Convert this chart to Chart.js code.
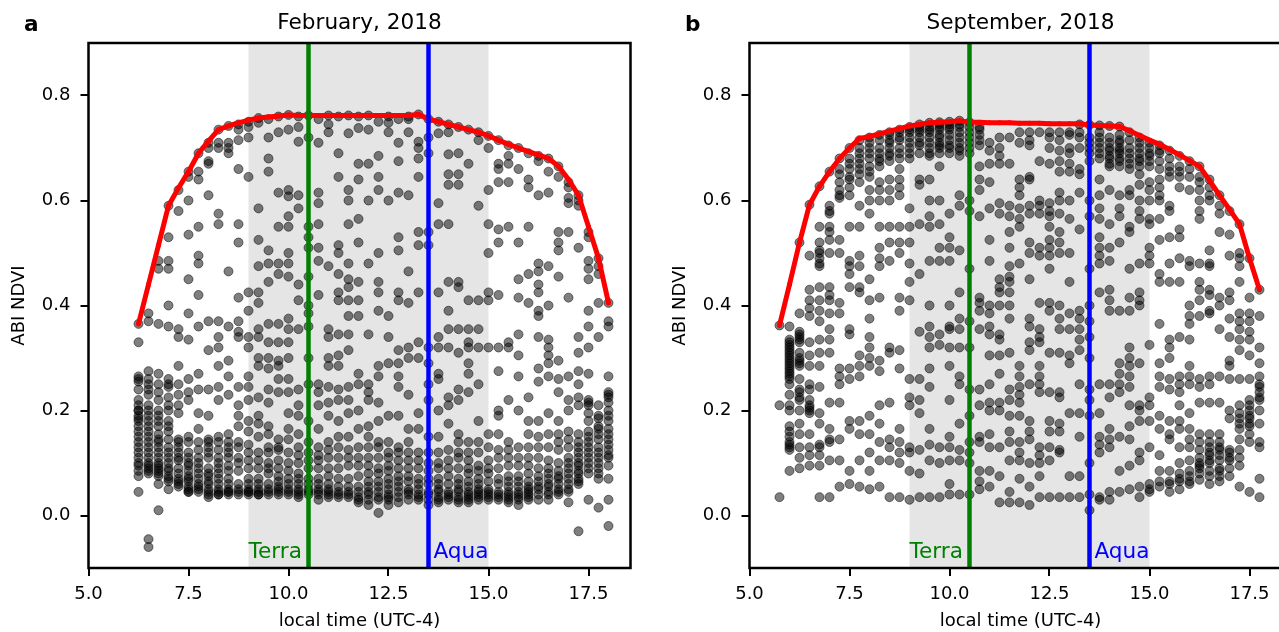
<!DOCTYPE html>
<html>
<head>
<meta charset="utf-8">
<script src="https://cdn.jsdelivr.net/npm/chart.js@4.4.1/dist/chart.umd.min.js"></script>
<style>
html, body { margin: 0; padding: 0; background: #fff; overflow: hidden; }
#fig { position: relative; width: 1279px; height: 632px; overflow: hidden; background: #fff; }
.panel { position: absolute; top: 0; height: 632px; overflow: hidden; }
</style>
</head>
<body>
<div id="fig">
    <div class="panel" style="left:0px;width:640px"><canvas id="panelA" width="640" height="632"></canvas></div>
    <div class="panel" style="left:661px;width:618px"><canvas id="panelB" width="640" height="632"></canvas></div>
</div>
<script>
// axis ticks
const xTickValues = [5.0, 7.5, 10.0, 12.5, 15.0, 17.5];
const yTickValues = [0.0, 0.2, 0.4, 0.6, 0.8];

// MODIS overpass window and times
const shadeRange = [9, 15];
const terraTime = 10.5;
const aquaTime = 13.5;

// February 2018 - observation times (local hour) and NDVI values at each time
const timesA = [6.25, 6.5, 6.75, 7.0, 7.25, 7.5, 7.75, 8.0, 8.25, 8.5, 8.75, 9.0, 9.25, 9.5, 9.75, 10.0,
    10.25, 10.5, 10.75, 11.0, 11.25, 11.5, 11.75, 12.0, 12.25, 12.5, 12.75, 13.0, 13.25, 13.5, 13.75, 14.0,
    14.25, 14.5, 14.75, 15.0, 15.25, 15.5, 15.75, 16.0, 16.25, 16.5, 16.75, 17.0, 17.25, 17.5, 17.75, 18.0];

const ndviA = [
    [0.365, 0.33, 0.265, 0.255, 0.24, 0.21, 0.2, 0.19, 0.18, 0.17, 0.16, 0.15, 0.13, 0.11, 0.1, 0.075, 0.045, 0.26, 0.22, 0.2, 0.185, 0.14, 0.12, 0.095, 0.085],
    [0.385, 0.37, 0.275, 0.26, 0.24, 0.23, 0.2, 0.19, 0.17, 0.15, 0.14, 0.13, 0.12, 0.1, 0.09, 0.08, -0.045, -0.06, 0.25, 0.21, 0.18, 0.16, 0.11, 0.095, 0.085],
    [0.485, 0.47, 0.365, 0.235, 0.2, 0.19, 0.17, 0.155, 0.14, 0.12, 0.1, 0.09, 0.08, 0.06, 0.01, 0.27, 0.25, 0.22, 0.18, 0.145, 0.13, 0.11, 0.095, 0.085, 0.075],
    [0.59, 0.53, 0.485, 0.47, 0.4, 0.36, 0.26, 0.245, 0.225, 0.2, 0.18, 0.16, 0.13, 0.11, 0.09, 0.075, 0.05, 0.25, 0.21, 0.17, 0.145, 0.12, 0.1, 0.085, 0.07, 0.065],
    [0.62, 0.58, 0.355, 0.34, 0.285, 0.23, 0.21, 0.195, 0.145, 0.12, 0.105, 0.09, 0.07, 0.055, 0.25, 0.14, 0.13, 0.11, 0.08, 0.065, 0.06],
    [0.655, 0.645, 0.6, 0.535, 0.45, 0.385, 0.335, 0.26, 0.235, 0.22, 0.14, 0.12, 0.1, 0.085, 0.07, 0.055, 0.045, 0.15, 0.11, 0.095, 0.075, 0.065, 0.05, 0.045],
    [0.69, 0.655, 0.64, 0.55, 0.495, 0.48, 0.42, 0.36, 0.27, 0.24, 0.195, 0.165, 0.125, 0.1, 0.08, 0.06, 0.05, 0.14, 0.11, 0.09, 0.07, 0.055, 0.045],
    [0.71, 0.7, 0.675, 0.67, 0.61, 0.37, 0.315, 0.24, 0.19, 0.145, 0.13, 0.12, 0.09, 0.075, 0.06, 0.045, 0.035, 0.14, 0.11, 0.08, 0.065, 0.05, 0.04],
    [0.735, 0.71, 0.7, 0.575, 0.555, 0.37, 0.34, 0.32, 0.285, 0.245, 0.22, 0.15, 0.125, 0.1, 0.08, 0.06, 0.045, 0.04, 0.14, 0.11, 0.09, 0.07, 0.05, 0.04],
    [0.742, 0.71, 0.7, 0.69, 0.465, 0.36, 0.295, 0.265, 0.23, 0.155, 0.13, 0.11, 0.095, 0.06, 0.045, 0.04, 0.14, 0.12, 0.085, 0.07, 0.05, 0.045],
    [0.745, 0.735, 0.715, 0.66, 0.555, 0.52, 0.415, 0.37, 0.35, 0.34, 0.245, 0.21, 0.19, 0.17, 0.13, 0.1, 0.05, 0.04, 0.14, 0.11, 0.085, 0.06, 0.045],
    [0.75, 0.74, 0.72, 0.645, 0.425, 0.39, 0.34, 0.32, 0.265, 0.245, 0.22, 0.18, 0.16, 0.135, 0.105, 0.07, 0.045, 0.04, 0.12, 0.09, 0.06, 0.05, 0.045],
    [0.757, 0.748, 0.585, 0.525, 0.475, 0.425, 0.405, 0.355, 0.34, 0.3, 0.285, 0.225, 0.19, 0.175, 0.15, 0.12, 0.105, 0.07, 0.045, 0.04, 0.09, 0.06, 0.05, 0.04],
    [0.755, 0.72, 0.68, 0.655, 0.505, 0.48, 0.445, 0.365, 0.33, 0.3, 0.28, 0.24, 0.215, 0.17, 0.155, 0.12, 0.1, 0.08, 0.06, 0.04, 0.13, 0.09, 0.05, 0.045],
    [0.76, 0.73, 0.615, 0.55, 0.48, 0.46, 0.365, 0.33, 0.295, 0.285, 0.26, 0.235, 0.145, 0.125, 0.105, 0.075, 0.055, 0.04, 0.13, 0.09, 0.065, 0.05, 0.045],
    [0.763, 0.735, 0.62, 0.608, 0.57, 0.55, 0.5, 0.48, 0.455, 0.375, 0.355, 0.33, 0.3, 0.26, 0.235, 0.195, 0.165, 0.145, 0.12, 0.1, 0.07, 0.05, 0.04, 0.085, 0.06, 0.045],
    [0.76, 0.74, 0.712, 0.61, 0.585, 0.44, 0.41, 0.355, 0.24, 0.21, 0.19, 0.155, 0.115, 0.08, 0.06, 0.045, 0.035, 0.13, 0.1, 0.07, 0.05, 0.04],
    [0.762, 0.72, 0.55, 0.53, 0.51, 0.455, 0.4, 0.385, 0.36, 0.3, 0.25, 0.18, 0.14, 0.105, 0.07, 0.045, 0.04, 0.12, 0.09, 0.06, 0.05],
    [0.755, 0.71, 0.615, 0.595, 0.555, 0.51, 0.485, 0.42, 0.25, 0.235, 0.21, 0.165, 0.105, 0.09, 0.07, 0.05, 0.03, 0.13, 0.115, 0.06, 0.045, 0.04],
    [0.762, 0.745, 0.73, 0.475, 0.355, 0.34, 0.3, 0.285, 0.245, 0.215, 0.19, 0.125, 0.09, 0.05, 0.04, 0.14, 0.11, 0.075, 0.06, 0.045, 0.035],
    [0.76, 0.69, 0.645, 0.515, 0.5, 0.46, 0.425, 0.41, 0.345, 0.305, 0.285, 0.24, 0.22, 0.18, 0.13, 0.07, 0.055, 0.04, 0.15, 0.11, 0.09, 0.045, 0.035],
    [0.762, 0.728, 0.62, 0.6, 0.555, 0.48, 0.45, 0.435, 0.41, 0.38, 0.345, 0.315, 0.245, 0.22, 0.195, 0.15, 0.125, 0.095, 0.055, 0.04, 0.11, 0.07, 0.045, 0.035],
    [0.76, 0.738, 0.67, 0.64, 0.565, 0.52, 0.445, 0.41, 0.38, 0.27, 0.25, 0.2, 0.165, 0.13, 0.095, 0.055, 0.035, 0.025, 0.11, 0.075, 0.045, 0.03],
    [0.762, 0.735, 0.67, 0.6, 0.48, 0.345, 0.25, 0.235, 0.22, 0.17, 0.13, 0.08, 0.055, 0.04, 0.02, 0.15, 0.11, 0.095, 0.065, 0.045, 0.03],
    [0.75, 0.685, 0.645, 0.62, 0.5, 0.445, 0.425, 0.39, 0.285, 0.265, 0.215, 0.18, 0.13, 0.08, 0.055, 0.035, 0.005, 0.14, 0.11, 0.09, 0.065, 0.045, 0.03],
    [0.76, 0.748, 0.73, 0.6, 0.38, 0.34, 0.29, 0.19, 0.14, 0.12, 0.095, 0.07, 0.04, 0.02, 0.11, 0.085, 0.06, 0.05, 0.035, 0.03],
    [0.755, 0.71, 0.675, 0.615, 0.53, 0.505, 0.425, 0.41, 0.315, 0.29, 0.265, 0.245, 0.19, 0.13, 0.105, 0.075, 0.045, 0.025, 0.12, 0.09, 0.065, 0.055, 0.035],
    [0.76, 0.755, 0.73, 0.61, 0.465, 0.405, 0.32, 0.3, 0.23, 0.165, 0.14, 0.105, 0.075, 0.05, 0.03, 0.12, 0.09, 0.065, 0.045, 0.04],
    [0.764, 0.712, 0.7, 0.68, 0.645, 0.54, 0.515, 0.425, 0.33, 0.3, 0.195, 0.165, 0.105, 0.07, 0.04, 0.035, 0.12, 0.09, 0.06, 0.05, 0.03],
    [0.755, 0.72, 0.69, 0.54, 0.515, 0.32, 0.29, 0.25, 0.22, 0.15, 0.1, 0.06, 0.03, 0.02, 0.12, 0.085, 0.07, 0.045, 0.04],
    [0.75, 0.728, 0.595, 0.555, 0.425, 0.34, 0.32, 0.27, 0.26, 0.2, 0.1, 0.07, 0.045, 0.03, 0.15, 0.12, 0.09, 0.06, 0.05, 0.035, 0.025],
    [0.745, 0.73, 0.688, 0.65, 0.63, 0.555, 0.445, 0.39, 0.355, 0.32, 0.225, 0.21, 0.175, 0.125, 0.105, 0.075, 0.045, 0.03, 0.09, 0.06, 0.04, 0.035],
    [0.74, 0.69, 0.65, 0.63, 0.445, 0.435, 0.355, 0.31, 0.24, 0.22, 0.155, 0.14, 0.11, 0.09, 0.07, 0.045, 0.025, 0.12, 0.06, 0.05, 0.035, 0.03],
    [0.735, 0.67, 0.41, 0.355, 0.33, 0.32, 0.29, 0.27, 0.235, 0.105, 0.08, 0.055, 0.04, 0.03, 0.14, 0.12, 0.09, 0.065, 0.045, 0.035, 0.025],
    [0.73, 0.715, 0.59, 0.41, 0.355, 0.32, 0.25, 0.18, 0.14, 0.095, 0.07, 0.05, 0.035, 0.12, 0.085, 0.06, 0.045, 0.04, 0.03],
    [0.723, 0.7, 0.62, 0.555, 0.5, 0.425, 0.41, 0.32, 0.155, 0.105, 0.08, 0.045, 0.035, 0.13, 0.09, 0.065, 0.05, 0.04, 0.03],
    [0.715, 0.67, 0.66, 0.635, 0.545, 0.52, 0.42, 0.32, 0.275, 0.2, 0.19, 0.155, 0.11, 0.09, 0.07, 0.045, 0.03, 0.125, 0.06, 0.04, 0.035],
    [0.705, 0.685, 0.67, 0.635, 0.55, 0.33, 0.32, 0.22, 0.125, 0.095, 0.075, 0.055, 0.04, 0.03, 0.14, 0.11, 0.065, 0.045, 0.035, 0.025],
    [0.7, 0.66, 0.52, 0.45, 0.415, 0.345, 0.305, 0.265, 0.2, 0.11, 0.075, 0.055, 0.04, 0.02, 0.13, 0.095, 0.065, 0.045, 0.035, 0.03],
    [0.69, 0.64, 0.625, 0.55, 0.46, 0.405, 0.225, 0.18, 0.155, 0.11, 0.08, 0.055, 0.035, 0.13, 0.095, 0.065, 0.05, 0.045, 0.04, 0.03],
    [0.685, 0.675, 0.61, 0.48, 0.465, 0.44, 0.425, 0.39, 0.38, 0.34, 0.28, 0.255, 0.18, 0.15, 0.13, 0.075, 0.05, 0.03, 0.11, 0.09, 0.065, 0.055, 0.04],
    [0.68, 0.655, 0.615, 0.475, 0.4, 0.335, 0.32, 0.305, 0.29, 0.265, 0.195, 0.155, 0.105, 0.08, 0.055, 0.03, 0.13, 0.09, 0.07, 0.06, 0.045, 0.04],
    [0.665, 0.645, 0.54, 0.52, 0.505, 0.455, 0.295, 0.26, 0.235, 0.18, 0.155, 0.125, 0.1, 0.07, 0.04, 0.14, 0.085, 0.075, 0.06, 0.05, 0.045],
    [0.635, 0.625, 0.605, 0.595, 0.54, 0.415, 0.265, 0.22, 0.2, 0.145, 0.13, 0.11, 0.09, 0.06, 0.025, 0.16, 0.1, 0.08, 0.07, 0.05, 0.045],
    [0.61, 0.6, 0.59, 0.51, 0.34, 0.31, 0.275, 0.25, 0.225, 0.21, 0.155, 0.13, 0.11, 0.095, 0.08, 0.06, -0.03, 0.14, 0.12, 0.1, 0.085, 0.07, 0.065],
    [0.54, 0.53, 0.485, 0.47, 0.45, 0.39, 0.36, 0.32, 0.27, 0.22, 0.21, 0.195, 0.18, 0.16, 0.14, 0.12, 0.1, 0.08, 0.03, 0.215, 0.15, 0.13, 0.11, 0.09],
    [0.49, 0.475, 0.46, 0.405, 0.34, 0.21, 0.19, 0.17, 0.155, 0.13, 0.11, 0.09, 0.07, 0.015, 0.185, 0.165, 0.145, 0.12, 0.1, 0.08],
    [0.405, 0.37, 0.36, 0.265, 0.235, 0.225, 0.2, 0.18, 0.165, 0.145, 0.125, 0.11, 0.095, 0.07, 0.03, -0.02, 0.23, 0.215, 0.19, 0.155, 0.135, 0.115]
];

// upper envelope (red line), one value per time
const envelopeA = [0.365, 0.44, 0.515, 0.59, 0.624, 0.655, 0.69, 0.713, 0.735, 0.742, 0.748, 0.753, 0.757, 0.759, 0.761, 0.763,
    0.762, 0.762, 0.762, 0.762, 0.762, 0.762, 0.762, 0.762, 0.762, 0.762, 0.762, 0.762, 0.764, 0.755, 0.75, 0.745,
    0.74, 0.735, 0.73, 0.723, 0.715, 0.707, 0.70, 0.693, 0.687, 0.68, 0.665, 0.64, 0.61, 0.55, 0.49, 0.405];

// September 2018
const timesB = [5.75, 6.0, 6.25, 6.5, 6.75, 7.0, 7.25, 7.5, 7.75, 8.0, 8.25, 8.5, 8.75, 9.0, 9.25, 9.5, 9.75,
    10.0, 10.25, 10.5, 10.75, 11.0, 11.25, 11.5, 11.75, 12.0, 12.25, 12.5, 12.75, 13.0, 13.25, 13.5, 13.75,
    14.0, 14.25, 14.5, 14.75, 15.0, 15.25, 15.5, 15.75, 16.0, 16.25, 16.5, 16.75, 17.0, 17.25, 17.5, 17.75];

const ndviB = [
    [0.362, 0.21, 0.035],
    [0.36, 0.335, 0.325, 0.315, 0.305, 0.295, 0.285, 0.275, 0.265, 0.25, 0.23, 0.21, 0.2, 0.17, 0.16, 0.15, 0.14, 0.13, 0.085, 0.33, 0.32, 0.31, 0.3, 0.29, 0.28, 0.27, 0.26, 0.135, 0.125],
    [0.52, 0.385, 0.35, 0.34, 0.33, 0.31, 0.3, 0.29, 0.285, 0.26, 0.24, 0.225, 0.2, 0.175, 0.155, 0.13, 0.11, 0.09, 0.345, 0.335, 0.295, 0.235, 0.22],
    [0.592, 0.495, 0.43, 0.41, 0.395, 0.38, 0.33, 0.305, 0.285, 0.25, 0.24, 0.22, 0.2, 0.155, 0.13, 0.115, 0.095, 0.21, 0.205, 0.195],
    [0.627, 0.55, 0.52, 0.505, 0.49, 0.475, 0.435, 0.41, 0.39, 0.37, 0.335, 0.31, 0.285, 0.245, 0.195, 0.175, 0.13, 0.115, 0.095, 0.035, 0.5, 0.48, 0.135],
    [0.655, 0.59, 0.575, 0.55, 0.525, 0.5, 0.435, 0.42, 0.41, 0.385, 0.355, 0.335, 0.31, 0.215, 0.165, 0.14, 0.105, 0.035, 0.58, 0.54, 0.145],
    [0.68, 0.635, 0.62, 0.605, 0.525, 0.5, 0.405, 0.385, 0.28, 0.265, 0.25, 0.215, 0.145, 0.105, 0.055, 0.66, 0.65, 0.61],
    [0.7, 0.66, 0.645, 0.625, 0.61, 0.55, 0.485, 0.475, 0.46, 0.435, 0.355, 0.345, 0.28, 0.26, 0.18, 0.165, 0.085, 0.06, 0.68, 0.67, 0.64],
    [0.715, 0.69, 0.67, 0.65, 0.635, 0.59, 0.55, 0.495, 0.475, 0.435, 0.425, 0.305, 0.285, 0.265, 0.18, 0.155, 0.105, 0.055, 0.7, 0.68, 0.66],
    [0.72, 0.71, 0.69, 0.665, 0.645, 0.62, 0.6, 0.575, 0.45, 0.41, 0.375, 0.34, 0.32, 0.3, 0.285, 0.19, 0.155, 0.12, 0.085, 0.05, 0.7, 0.68, 0.655],
    [0.725, 0.7, 0.68, 0.665, 0.635, 0.62, 0.6, 0.55, 0.51, 0.49, 0.475, 0.415, 0.295, 0.275, 0.21, 0.175, 0.14, 0.105, 0.055, 0.715, 0.69, 0.675],
    [0.73, 0.715, 0.7, 0.685, 0.64, 0.62, 0.6, 0.55, 0.52, 0.485, 0.32, 0.31, 0.215, 0.145, 0.13, 0.105, 0.035, 0.725, 0.71, 0.69, 0.675],
    [0.735, 0.715, 0.7, 0.68, 0.66, 0.64, 0.625, 0.61, 0.55, 0.52, 0.5, 0.415, 0.39, 0.315, 0.28, 0.165, 0.14, 0.12, 0.1, 0.035, 0.73, 0.72, 0.69],
    [0.74, 0.72, 0.7, 0.69, 0.585, 0.55, 0.52, 0.48, 0.445, 0.41, 0.26, 0.225, 0.21, 0.13, 0.12, 0.085, 0.03, 0.735, 0.73, 0.71, 0.68],
    [0.745, 0.735, 0.72, 0.705, 0.64, 0.63, 0.555, 0.46, 0.35, 0.26, 0.22, 0.195, 0.125, 0.08, 0.035, 0.74, 0.73, 0.71, 0.69],
    [0.748, 0.735, 0.72, 0.7, 0.685, 0.64, 0.6, 0.57, 0.55, 0.485, 0.4, 0.36, 0.34, 0.32, 0.28, 0.245, 0.165, 0.135, 0.105, 0.035, 0.74, 0.73, 0.71, 0.69],
    [0.749, 0.74, 0.72, 0.705, 0.69, 0.665, 0.6, 0.555, 0.51, 0.485, 0.345, 0.325, 0.13, 0.1, 0.035, 0.745, 0.735, 0.725, 0.71, 0.7],
    [0.75, 0.74, 0.725, 0.705, 0.69, 0.575, 0.53, 0.51, 0.485, 0.4, 0.36, 0.355, 0.32, 0.285, 0.22, 0.15, 0.13, 0.105, 0.06, 0.04, 0.745, 0.735, 0.715, 0.7],
    [0.752, 0.745, 0.73, 0.71, 0.695, 0.685, 0.61, 0.59, 0.505, 0.425, 0.375, 0.355, 0.32, 0.265, 0.25, 0.175, 0.125, 0.105, 0.04, 0.74, 0.72, 0.7],
    [0.749, 0.73, 0.7, 0.6, 0.58, 0.47, 0.37, 0.32, 0.24, 0.19, 0.14, 0.12, 0.1, 0.04, 0.74, 0.72, 0.71, 0.69],
    [0.74, 0.725, 0.705, 0.665, 0.64, 0.62, 0.57, 0.415, 0.405, 0.39, 0.355, 0.24, 0.21, 0.15, 0.14, 0.085, 0.065, 0.05, 0.735, 0.715],
    [0.695, 0.67, 0.635, 0.585, 0.525, 0.485, 0.4, 0.385, 0.36, 0.345, 0.305, 0.25, 0.215, 0.2, 0.155, 0.13, 0.085, 0.055, 0.71],
    [0.72, 0.7, 0.685, 0.67, 0.595, 0.575, 0.45, 0.435, 0.425, 0.4, 0.345, 0.335, 0.305, 0.27, 0.215, 0.2, 0.13, 0.075, 0.025],
    [0.72, 0.67, 0.59, 0.57, 0.54, 0.51, 0.475, 0.455, 0.445, 0.425, 0.4, 0.375, 0.31, 0.24, 0.22, 0.19, 0.16, 0.14, 0.105, 0.045, 0.025],
    [0.73, 0.71, 0.64, 0.625, 0.61, 0.585, 0.565, 0.55, 0.48, 0.285, 0.265, 0.245, 0.23, 0.215, 0.19, 0.14, 0.12, 0.105, 0.07, 0.025],
    [0.73, 0.715, 0.705, 0.645, 0.64, 0.59, 0.575, 0.52, 0.5, 0.45, 0.375, 0.36, 0.33, 0.315, 0.25, 0.18, 0.16, 0.145, 0.1, 0.055, 0.02],
    [0.73, 0.675, 0.6, 0.59, 0.575, 0.51, 0.495, 0.405, 0.355, 0.34, 0.33, 0.285, 0.265, 0.25, 0.235, 0.13, 0.115, 0.1, 0.075, 0.035],
    [0.73, 0.72, 0.7, 0.67, 0.595, 0.58, 0.57, 0.55, 0.525, 0.51, 0.495, 0.47, 0.405, 0.39, 0.31, 0.235, 0.18, 0.16, 0.13, 0.105, 0.035],
    [0.73, 0.715, 0.695, 0.675, 0.655, 0.615, 0.6, 0.575, 0.54, 0.52, 0.5, 0.4, 0.375, 0.355, 0.31, 0.235, 0.225, 0.175, 0.16, 0.125, 0.12, 0.035],
    [0.73, 0.7, 0.67, 0.655, 0.6, 0.565, 0.5, 0.445, 0.385, 0.355, 0.305, 0.29, 0.195, 0.075, 0.035, 0.725, 0.69],
    [0.745, 0.72, 0.7, 0.65, 0.615, 0.545, 0.39, 0.375, 0.355, 0.335, 0.315, 0.25, 0.195, 0.15, 0.075, 0.035, 0.73, 0.66],
    [0.744, 0.72, 0.7, 0.6, 0.57, 0.47, 0.4, 0.37, 0.34, 0.3, 0.24, 0.22, 0.19, 0.1, 0.04, 0.01, 0.71, 0.69, 0.675],
    [0.743, 0.72, 0.7, 0.68, 0.64, 0.61, 0.585, 0.565, 0.53, 0.51, 0.495, 0.48, 0.425, 0.25, 0.195, 0.15, 0.135, 0.12, 0.035, 0.03, 0.73, 0.71, 0.69],
    [0.742, 0.71, 0.695, 0.68, 0.665, 0.62, 0.555, 0.51, 0.485, 0.43, 0.41, 0.39, 0.25, 0.225, 0.165, 0.145, 0.13, 0.045, 0.03, 0.72, 0.7, 0.685, 0.67],
    [0.741, 0.725, 0.71, 0.695, 0.68, 0.665, 0.61, 0.585, 0.57, 0.52, 0.39, 0.29, 0.27, 0.25, 0.235, 0.15, 0.085, 0.045, 0.715, 0.7, 0.69, 0.675],
    [0.73, 0.7, 0.68, 0.66, 0.62, 0.61, 0.55, 0.54, 0.47, 0.415, 0.39, 0.32, 0.3, 0.285, 0.265, 0.245, 0.21, 0.17, 0.145, 0.095, 0.05, 0.715, 0.69, 0.67],
    [0.72, 0.7, 0.68, 0.665, 0.65, 0.63, 0.6, 0.58, 0.565, 0.48, 0.425, 0.41, 0.4, 0.29, 0.21, 0.2, 0.18, 0.12, 0.105, 0.055, 0.035, 0.71, 0.69, 0.675],
    [0.71, 0.7, 0.685, 0.665, 0.635, 0.62, 0.6, 0.565, 0.555, 0.51, 0.495, 0.48, 0.325, 0.225, 0.21, 0.18, 0.13, 0.06, 0.045, 0.69, 0.675, 0.05],
    [0.705, 0.695, 0.69, 0.64, 0.625, 0.61, 0.6, 0.565, 0.525, 0.46, 0.445, 0.365, 0.29, 0.265, 0.245, 0.19, 0.165, 0.115, 0.085, 0.065, 0.055, 0.675, 0.66],
    [0.695, 0.68, 0.645, 0.59, 0.58, 0.53, 0.48, 0.445, 0.335, 0.32, 0.3, 0.26, 0.24, 0.18, 0.155, 0.145, 0.085, 0.065, 0.045, 0.665, 0.655, 0.06],
    [0.685, 0.665, 0.645, 0.625, 0.545, 0.53, 0.49, 0.445, 0.34, 0.265, 0.25, 0.235, 0.21, 0.18, 0.165, 0.13, 0.1, 0.08, 0.065, 0.05, 0.655, 0.07],
    [0.675, 0.66, 0.645, 0.62, 0.485, 0.475, 0.4, 0.38, 0.365, 0.335, 0.285, 0.265, 0.25, 0.195, 0.165, 0.145, 0.13, 0.105, 0.085, 0.065, 0.075, 0.06],
    [0.665, 0.645, 0.635, 0.62, 0.6, 0.58, 0.565, 0.48, 0.445, 0.43, 0.41, 0.38, 0.26, 0.245, 0.215, 0.155, 0.14, 0.125, 0.11, 0.095, 0.08, 0.068, 0.1, 0.09],
    [0.64, 0.625, 0.61, 0.6, 0.505, 0.48, 0.475, 0.43, 0.42, 0.39, 0.385, 0.265, 0.25, 0.215, 0.155, 0.14, 0.13, 0.115, 0.1, 0.075, 0.06, 0.12, 0.105, 0.085],
    [0.61, 0.59, 0.575, 0.54, 0.415, 0.4, 0.355, 0.265, 0.215, 0.155, 0.14, 0.125, 0.105, 0.09, 0.075, 0.13, 0.115, 0.085, 0.065],
    [0.58, 0.535, 0.495, 0.425, 0.41, 0.375, 0.34, 0.295, 0.285, 0.26, 0.2, 0.185, 0.12, 0.105, 0.09, 0.125, 0.11, 0.075],
    [0.555, 0.5, 0.49, 0.475, 0.445, 0.385, 0.37, 0.355, 0.335, 0.315, 0.26, 0.21, 0.195, 0.175, 0.145, 0.125, 0.11, 0.095, 0.055, 0.185, 0.165],
    [0.49, 0.415, 0.385, 0.37, 0.35, 0.335, 0.305, 0.26, 0.22, 0.2, 0.185, 0.17, 0.155, 0.14, 0.045, 0.21, 0.19, 0.175],
    [0.43, 0.38, 0.32, 0.29, 0.265, 0.25, 0.235, 0.22, 0.2, 0.175, 0.13, 0.07, 0.035, 0.245, 0.225, 0.14]
];

const envelopeB = [0.362, 0.44, 0.52, 0.592, 0.627, 0.655, 0.68, 0.7, 0.718, 0.722, 0.727, 0.732, 0.737, 0.742, 0.745, 0.748, 0.749,
    0.75, 0.752, 0.749, 0.749, 0.748, 0.748, 0.748, 0.747, 0.747, 0.747, 0.746, 0.746, 0.746, 0.746, 0.744, 0.743,
    0.742, 0.741, 0.733, 0.724, 0.715, 0.707, 0.697, 0.687, 0.676, 0.665, 0.638, 0.61, 0.583, 0.555, 0.49, 0.43];

const FONT = 'DejaVu Sans';
Chart.defaults.font.family = FONT;
Chart.defaults.color = '#000';

const figurePlugin = {
    id: 'figureDecor',
    beforeDatasetsDraw(chart) {
        const { ctx, chartArea: a, scales: { x } } = chart;
        ctx.save();
        ctx.fillStyle = '#e5e5e5';
        const x1 = x.getPixelForValue(shadeRange[0]);
        const x2 = x.getPixelForValue(shadeRange[1]);
        ctx.fillRect(x1, a.top, x2 - x1, a.bottom - a.top);
        ctx.restore();
    },
    afterDatasetsDraw(chart) {
        const { ctx, chartArea: a, scales: { x, y } } = chart;
        ctx.save();
        ctx.lineWidth = 4.5;
        [[terraTime, '#008000'], [aquaTime, '#0000ff']].forEach(([t, c]) => {
            const px = x.getPixelForValue(t);
            ctx.strokeStyle = c;
            ctx.beginPath();
            ctx.moveTo(px, a.top);
            ctx.lineTo(px, a.bottom);
            ctx.stroke();
        });
        ctx.font = `21.6px ${FONT}`;
        ctx.textBaseline = 'alphabetic';
        const ty = y.getPixelForValue(-0.08);
        ctx.fillStyle = '#008000';
        ctx.textAlign = 'left';
        ctx.fillText('Terra', x.getPixelForValue(shadeRange[0]), ty);
        ctx.fillStyle = '#0000ff';
        ctx.textAlign = 'right';
        ctx.fillText('Aqua', x.getPixelForValue(shadeRange[1]), ty);
        ctx.restore();
    },
    afterDraw(chart) {
        const { ctx, chartArea: a } = chart;
        const opts = chart.options.plugins.figureDecor;
        ctx.save();
        ctx.strokeStyle = '#000';
        ctx.lineWidth = 2.5;
        ctx.strokeRect(a.left, a.top, a.right - a.left, a.bottom - a.top);
        ctx.fillStyle = '#000';
        ctx.textBaseline = 'alphabetic';
        ctx.textAlign = 'center';
        ctx.font = `21.6px ${FONT}`;
        ctx.fillText(opts.title, (a.left + a.right) / 2, 29);
        ctx.textAlign = 'left';
        ctx.font = `bold 21.6px ${FONT}`;
        ctx.fillText(opts.letter, 24, 31);
        ctx.restore();
    }
};

function axisOpts(extra) {
    return Object.assign({
        ticks: {
            callback: v => Number(v).toFixed(1),
            font: { family: FONT, size: 18 },
            color: '#000',
            autoSkip: false,
            maxRotation: 0
        },
        grid: { drawOnChartArea: false, drawTicks: true, tickLength: 8, color: '#000', lineWidth: 2 },
        border: { display: false }
    }, extra);
}

function makePanel(id, letter, title, times, ndvi, envelope) {
    const points = [];
    times.forEach((t, i) => ndvi[i].forEach(v => points.push({ x: t, y: v })));
    const envPoints = times.map((t, i) => ({ x: t, y: envelope[i] }));

    const xOpts = axisOpts({
        type: 'linear', min: 5, max: 18.55,
        afterBuildTicks: s => { s.ticks = xTickValues.map(v => ({ value: v })); },
        afterFit: s => { s.height = 64; },
        title: { display: true, text: 'local time (UTC-4)', font: { family: FONT, size: 18 }, color: '#000', padding: { top: 0, bottom: 0 } }
    });
    xOpts.ticks.padding = 8;
    const yOpts = axisOpts({
        type: 'linear', min: -0.1, max: 0.9,
        afterBuildTicks: s => { s.ticks = yTickValues.map(v => ({ value: v })); },
        afterFit: s => { s.width = 88.5; },
        title: { display: true, text: 'ABI NDVI', font: { family: FONT, size: 18 }, color: '#000', padding: { top: 9, bottom: 0 } }
    });
    yOpts.ticks.padding = 10;

    return new Chart(document.getElementById(id), {
        type: 'scatter',
        data: {
            datasets: [
                {
                    type: 'line',
                    data: envPoints,
                    borderColor: '#ff0000',
                    borderWidth: 5,
                    pointRadius: 2.5,
                    pointBackgroundColor: '#ff0000',
                    pointBorderWidth: 0,
                    tension: 0,
                    order: 1
                },
                {
                    data: points,
                    backgroundColor: 'rgba(0,0,0,0.5)',
                    borderColor: 'rgba(0,0,0,0.5)',
                    borderWidth: 1,
                    pointRadius: 4.5,
                    order: 2
                }
            ]
        },
        options: {
            responsive: false,
            animation: false,
            devicePixelRatio: 1,
            events: [],
            layout: { padding: { left: 0, right: 9.5, top: 43, bottom: 0 } },
            plugins: {
                legend: { display: false },
                tooltip: { enabled: false },
                figureDecor: { title: title, letter: letter }
            },
            scales: { x: xOpts, y: yOpts }
        },
        plugins: [figurePlugin]
    });
}

makePanel('panelA', 'a', 'February, 2018', timesA, ndviA, envelopeA);
makePanel('panelB', 'b', 'September, 2018', timesB, ndviB, envelopeB);
</script>
</body>
</html>
